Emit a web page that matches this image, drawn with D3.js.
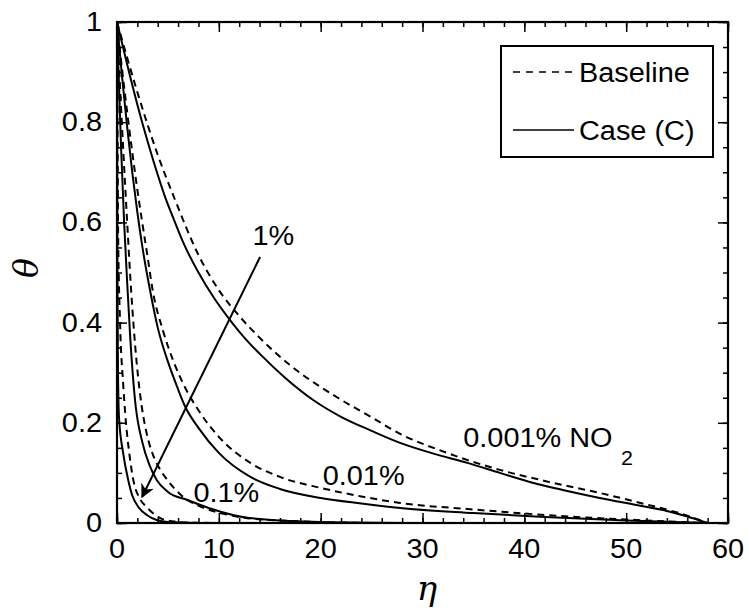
<!DOCTYPE html>
<html><head><meta charset="utf-8">
<script src="https://cdn.jsdelivr.net/npm/d3@7"></script>
<style>body{margin:0;background:#fff}svg{display:block}</style>
</head><body>
<svg id="c" width="749" height="615"></svg>
<script>
// ---------- data ----------
const xTicks = [0, 10, 20, 30, 40, 50, 60];
const yTicks = [0, 0.2, 0.4, 0.6, 0.8, 1];
const xTickLabels = ["0", "10", "20", "30", "40", "50", "60"];
const yTickLabels = ["0", "0.2", "0.4", "0.6", "0.8", "1"];

// 0.001% NO2
const base0001 = [[0,1],[2,0.86],[4,0.735],[5.7,0.645],[8,0.535],[10,0.465],[12.1,0.411],[14,0.37],[17,0.315],[21.6,0.251],[25,0.211],[27.8,0.178],[32,0.143],[37.6,0.106],[42,0.084],[47.4,0.06],[52,0.037],[55,0.021],[58,0]];
const caseC0001 = [[0,1],[1,0.915],[2,0.835],[3,0.762],[4,0.695],[4.7,0.652],[5.5,0.61],[6.5,0.56],[8,0.5],[9.5,0.45],[11.1,0.405],[12.5,0.37],[14,0.338],[16.5,0.29],[19.3,0.245],[22,0.212],[25,0.184],[27.8,0.16],[31,0.139],[34.4,0.12],[37.6,0.1],[40.9,0.08],[44,0.065],[47.4,0.05],[51,0.036],[54,0.024],[56,0.013],[58,0]];
// 0.01%
const base001 = [[0,1],[0.5,0.905],[1,0.82],[1.5,0.74],[2,0.665],[2.5,0.597],[3,0.532],[3.5,0.465],[4.5,0.385],[5.5,0.325],[6.5,0.278],[8,0.225],[10,0.172],[13.1,0.12],[16,0.092],[20,0.07],[24,0.053],[27.8,0.04],[35,0.027],[42,0.016],[50,0.007],[58,0]];
const caseC001 = [[0,1],[0.5,0.89],[1,0.79],[1.5,0.7],[2,0.62],[2.5,0.55],[3.24,0.465],[4,0.39],[5,0.322],[5.9,0.272],[6.7,0.232],[8,0.19],[10,0.14],[13.1,0.092],[16,0.068],[20,0.05],[24,0.039],[27.8,0.03],[35,0.02],[42,0.012],[50,0.005],[58,0]];
// 0.1%
const base01 = [[0,1],[0.3,0.87],[0.6,0.75],[1,0.6],[1.4,0.46],[1.8,0.35],[2.26,0.258],[2.9,0.18],[3.5,0.138],[4.2,0.108],[4.9,0.087],[6.5,0.052],[8.2,0.033],[11,0.016],[15,0.006],[25,0]];
const caseC01 = [[0,1],[0.2,0.87],[0.4,0.75],[0.7,0.6],[1,0.48],[1.3,0.37],[1.77,0.245],[2.5,0.16],[3.2,0.115],[3.9,0.086],[5,0.062],[6.9,0.046],[9,0.03],[13,0.01],[20,0.002],[30,0]];
// 1%
const base1 = [[0,1],[0.05,0.8],[0.1,0.6],[0.3,0.4],[0.6,0.28],[0.8,0.22],[1.2,0.14],[1.6,0.086],[2.2,0.05],[2.9,0.032],[3.9,0.014],[4.9,0.005],[7,0.001],[10,0]];
const caseC1 = [[0,1],[0.02,0.7],[0.05,0.45],[0.1,0.3],[0.2,0.21],[0.6,0.14],[1.1,0.086],[1.5,0.055],[2.1,0.032],[3,0.015],[3.9,0.006],[5,0.002],[8,0]];

const baselineSeries = [base0001, base001, base01, base1];
const caseSeries = [caseC0001, caseC001, caseC01, caseC1];

const arrowFrom = [14.05, 0.531];
const arrowTo = [2.46, 0.052];

const annotations = [
  {text: "1%", eta: 13.3, theta: 0.555},
  {text: "0.1%", eta: 7.5, theta: 0.042},
  {text: "0.01%", eta: 20.2, theta: 0.076},
  {text: "0.001% NO", sub: "2", eta: 34, theta: 0.152}
];
const legendItems = [{label: "Baseline", dash: "7,6"}, {label: "Case (C)", dash: null}];

// ---------- drawing ----------
const m = {left: 117, right: 728, top: 22, bottom: 523};
const SX = 1.07; // horizontal text stretch of the original
const FS = 27;
const FONT = "'Liberation Sans', Arial, sans-serif";
const SERIF = "'DejaVu Serif', 'Liberation Serif', serif";
const svg = d3.select("#c");

const x = d3.scaleLinear().domain([0, 60]).range([m.left, m.right]);
const y = d3.scaleLinear().domain([0, 1]).range([m.bottom, m.top]);

function stext(g, px, py, str, anchor, size) {
  return g.append("g").attr("transform", `translate(${px},${py}) scale(${SX},1)`)
    .append("text").attr("text-anchor", anchor || "start")
    .attr("font-family", FONT).attr("font-size", size || FS).attr("fill", "#000").text(str);
}

// curves
const line = d3.line().x(d => x(d[0])).y(d => y(d[1])).curve(d3.curveMonotoneX);
const curves = svg.append("g").attr("fill", "none").attr("stroke", "#000").attr("stroke-width", 2);
baselineSeries.forEach(s => curves.append("path").attr("d", line(s)).attr("stroke-dasharray", "7,5"));
caseSeries.forEach(s => curves.append("path").attr("d", line(s)));

// axes (ticks inward)
function axisTicks(axisGen, transform) {
  svg.append("g").attr("transform", transform).call(axisGen)
    .call(g => g.select(".domain").remove())
    .call(g => g.selectAll("line").attr("stroke", "#000").attr("stroke-width", 1.5))
    .call(g => g.selectAll("text").remove());
}
const xMinor = d3.range(0, 61, 2), yMinor = d3.range(0, 1.0001, 0.05);
axisTicks(d3.axisTop(x).tickValues(xMinor).tickSize(5), `translate(0,${m.bottom})`);
axisTicks(d3.axisTop(x).tickValues(xTicks).tickSize(10), `translate(0,${m.bottom})`);
axisTicks(d3.axisBottom(x).tickValues(xMinor).tickSize(5), `translate(0,${m.top})`);
axisTicks(d3.axisBottom(x).tickValues(xTicks).tickSize(10), `translate(0,${m.top})`);
axisTicks(d3.axisRight(y).tickValues(yMinor).tickSize(5), `translate(${m.left},0)`);
axisTicks(d3.axisRight(y).tickValues(yTicks).tickSize(10), `translate(${m.left},0)`);
axisTicks(d3.axisLeft(y).tickValues(yMinor).tickSize(5), `translate(${m.right},0)`);
axisTicks(d3.axisLeft(y).tickValues(yTicks).tickSize(10), `translate(${m.right},0)`);

svg.append("rect").attr("x", m.left).attr("y", m.top)
  .attr("width", m.right - m.left).attr("height", m.bottom - m.top)
  .attr("fill", "none").attr("stroke", "#000").attr("stroke-width", 2.2);

// tick labels
const lab = svg.append("g");
xTicks.forEach((v, i) => stext(lab, x(v), 558, xTickLabels[i], "middle"));
yTicks.forEach((v, i) => stext(lab, 102, y(v) + 9, yTickLabels[i], "end"));

// axis titles
svg.append("text").attr("x", 427).attr("y", 600).attr("text-anchor", "middle")
  .attr("font-family", SERIF).attr("font-style", "italic")
  .attr("font-size", 34).text("η");
svg.append("text").attr("transform", `translate(38,268) rotate(-90)`)
  .attr("text-anchor", "middle")
  .attr("font-family", SERIF).attr("font-style", "italic")
  .attr("font-size", 33).text("θ");

// arrow
svg.append("defs").append("marker").attr("id", "ah").attr("viewBox", "0 0 10 10")
  .attr("refX", 9).attr("refY", 5).attr("markerWidth", 14).attr("markerHeight", 14)
  .attr("markerUnits", "userSpaceOnUse").attr("orient", "auto")
  .append("path").attr("d", "M0,0 L10,5 L0,10 L3,5 Z").attr("fill", "#000");
svg.append("line").attr("x1", x(arrowFrom[0])).attr("y1", y(arrowFrom[1]))
  .attr("x2", x(arrowTo[0])).attr("y2", y(arrowTo[1]))
  .attr("stroke", "#000").attr("stroke-width", 2).attr("marker-end", "url(#ah)");

// annotations
annotations.forEach(a => {
  const t = stext(svg, x(a.eta), y(a.theta), a.text, "start");
  if (a.sub) t.append("tspan").attr("dy", 18).attr("dx", 8).attr("font-size", 20).text(a.sub);
});

// legend
const lg = svg.append("g");
lg.append("rect").attr("x", 501).attr("y", 46).attr("width", 212).attr("height", 111)
  .attr("fill", "#fff").attr("stroke", "#000").attr("stroke-width", 2);
legendItems.forEach((it, i) => {
  const ly = 72 + i * 58;
  const l = lg.append("line").attr("x1", 513).attr("x2", 574).attr("y1", ly).attr("y2", ly)
    .attr("stroke", "#000").attr("stroke-width", 1.5);
  if (it.dash) l.attr("stroke-dasharray", it.dash);
  stext(lg, 579, ly + 10, it.label, "start");
});
</script>
</body></html>
